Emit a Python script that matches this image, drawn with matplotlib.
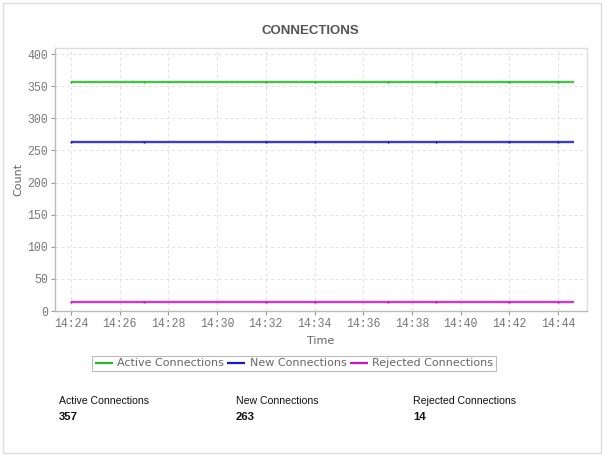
import matplotlib.pyplot as plt
from matplotlib.patches import Rectangle

# minutes after 14:24
sample_minutes = [0, 3, 8, 10, 13, 15, 18, 20, 20.67]
active_connections = [357, 357, 357, 357, 357, 357, 357, 357, 357]
new_connections = [263, 263, 263, 263, 263, 263, 263, 263, 263]
rejected_connections = [14, 14, 14, 14, 14, 14, 14, 14, 14]

series_names = ["Active Connections", "New Connections", "Rejected Connections"]
series_colors = ["#22bb22", "#1a1acc", "#cc11cc"]
summary_values = [357, 263, 14]

tick_minutes = [0, 2, 4, 6, 8, 10, 12, 14, 16, 18, 20]
tick_labels = ["14:24", "14:26", "14:28", "14:30", "14:32", "14:34",
               "14:36", "14:38", "14:40", "14:42", "14:44"]
y_ticks = [0, 50, 100, 150, 200, 250, 300, 350, 400]

fig = plt.figure(figsize=(6.04, 4.57), dpi=100)

# outer panel border
fig.patches.append(Rectangle((3 / 604, 4 / 457), 598 / 604, 450 / 457,
                             transform=fig.transFigure, fill=False,
                             edgecolor="#dddddd", linewidth=1.0))

ax = fig.add_axes([55 / 604, 146 / 457, 532 / 604, 262.7 / 457])

for vals, name, col in zip([active_connections, new_connections, rejected_connections],
                           series_names, series_colors):
    ax.plot(sample_minutes[:-1], vals[:-1], linestyle="none", color=col,
            marker="o", markersize=1.6, markeredgewidth=0, zorder=3)
    ax.plot(sample_minutes, vals, color=col, linewidth=1.7, label=name,
            alpha=0.85, solid_capstyle="butt")

ax.set_xlim(-0.657, 21.19)
ax.set_ylim(0, 409)
ax.set_xticks(tick_minutes)
ax.set_xticklabels(tick_labels)
ax.set_yticks(y_ticks)

mono = "Liberation Mono"
for lab in ax.get_xticklabels() + ax.get_yticklabels():
    lab.set_fontfamily(mono)
    lab.set_fontsize(8.3)
    lab.set_color("#777777")

ax.tick_params(axis="both", length=3, width=0.8, color="#999999", pad=2)
ax.grid(True, linestyle=(0, (3, 3)), color="#e2e2e2", linewidth=0.7)
for side in ax.spines.values():
    side.set_color("#dddddd")
    side.set_linewidth(1.0)
ax.spines["bottom"].set_color("#bbbbbb")
ax.spines["left"].set_color("#bbbbbb")

ax.set_xlabel("Time", fontsize=8, color="#666666", labelpad=4)
ax.set_ylabel("Count", fontsize=8, color="#666666", labelpad=3)

fig.text(310 / 604, 1 - 30.5 / 457, "CONNECTIONS", ha="center", va="center",
         fontsize=9.5, fontweight="bold", color="#555555",
         fontfamily="Liberation Sans")

leg = fig.legend(loc="center", bbox_to_anchor=(294 / 604, 1 - 363.5 / 457),
                 ncol=3, frameon=True, fancybox=False, fontsize=8,
                 handlelength=1.6, handletextpad=0.4, columnspacing=0.3,
                 borderpad=0.25, borderaxespad=0)
leg.get_frame().set_edgecolor("#aaaaaa")
leg.get_frame().set_linewidth(0.8)
for t in leg.get_texts():
    t.set_color("#666666")
for line in leg.get_lines():
    line.set_linewidth(1.6)
    line.set_alpha(1.0)

col_x = [59, 236, 413]
for x, name, val in zip(col_x, series_names, summary_values):
    fig.text(x / 604, 1 - 401 / 457, name, ha="left", va="center",
             fontsize=7.6, color="#111111", fontfamily="Liberation Sans")
    fig.text(x / 604, 1 - 417 / 457, str(val), ha="left", va="center",
             fontsize=8.2, fontweight="bold", color="#111111",
             fontfamily="Liberation Sans")

fig.savefig("out.png", dpi=100)
